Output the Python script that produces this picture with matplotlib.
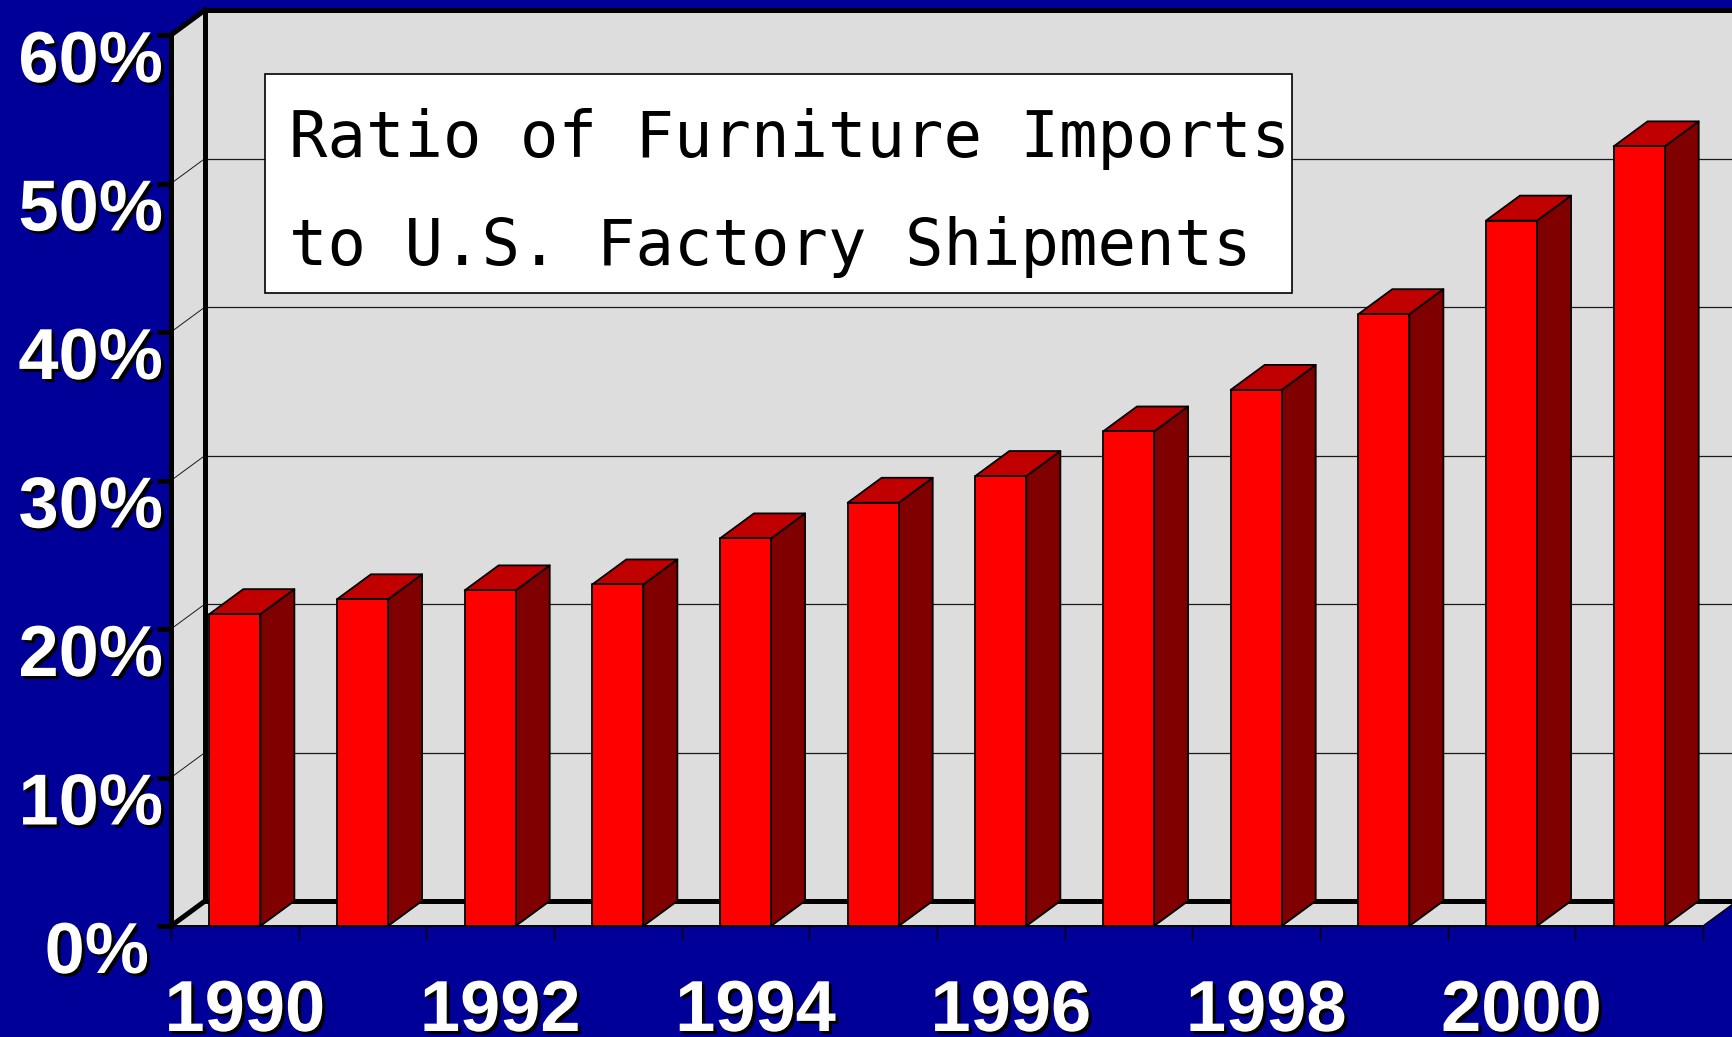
import matplotlib
matplotlib.use("Agg")
import matplotlib.pyplot as plt
import matplotlib.patches as mpatches
import matplotlib.patheffects as pe
from matplotlib.transforms import ScaledTranslation

# ---- data ----
years = [1990, 1991, 1992, 1993, 1994, 1995, 1996, 1997, 1998, 1999, 2000, 2001]
ratio = [21.0, 22.0, 22.6, 23.0, 26.1, 28.5, 30.3, 33.3, 36.1, 41.2, 47.5, 52.5]
y_ticks = [0, 10, 20, 30, 40, 50, 60]
y_tick_labels = ["0%", "10%", "20%", "30%", "40%", "50%", "60%"]
x_label_years = [1990, 1992, 1994, 1996, 1998, 2000]
title_lines = ["Ratio of Furniture Imports", "to U.S. Factory Shipments"]

# ---- style ----
BG = "#000099"
WALL = "#DDDDDD"
FRONT = "#FF0000"
TOP = "#C00000"
SIDE = "#800000"
W, H, DPI = 1732, 1037, 100

fig = plt.figure(figsize=(W / DPI, H / DPI), dpi=DPI, facecolor=BG)
left_px, right_px, bot_px, top_px = 171, 1703, 926, 35
ax = fig.add_axes([left_px / W, 1 - bot_px / H, (right_px - left_px) / W, (bot_px - top_px) / H])
ax.set_facecolor("none")
n = len(years)
ax.set_xlim(0, n)
ax.set_ylim(0, 60)
for s in ax.spines.values():
    s.set_visible(False)

# depth offsets in data units
dx = 34 / ((right_px - left_px) / n)
dy = 25 / ((bot_px - top_px) / 60)
ymax = 60

thick = 3.6
kw = dict(clip_on=False)

# back wall
ax.add_patch(mpatches.Rectangle((dx, dy), n + 0.5, ymax, facecolor=WALL, edgecolor="none", zorder=1, **kw))
# side wall
ax.add_patch(mpatches.Polygon([(0, 0), (dx, dy), (dx, ymax + dy), (0, ymax)], closed=True,
                              facecolor=WALL, edgecolor="none", zorder=1, **kw))
# floor
ax.add_patch(mpatches.Polygon([(0, 0), (n, 0), (n + dx, dy), (dx, dy)], closed=True,
                              facecolor=WALL, edgecolor="none", zorder=1, **kw))

# gridlines
for v in y_ticks[1:-1]:
    ax.plot([dx, n + dx + 0.5], [v + dy, v + dy], color="#1a1a1a", lw=0.9, zorder=2, **kw)
    ax.plot([0, dx], [v, v + dy], color="#1a1a1a", lw=0.7, zorder=2, **kw)

# thick frame edges
ax.plot([0, 0], [0, ymax], color="black", lw=thick, zorder=3, solid_capstyle="projecting", **kw)
ax.plot([0, dx], [ymax, ymax + dy], color="black", lw=thick, zorder=3, **kw)
ax.plot([dx, n + dx + 0.5], [ymax + dy, ymax + dy], color="black", lw=thick, zorder=3, **kw)
ax.plot([dx, dx], [dy, ymax + dy], color="black", lw=thick, zorder=3, **kw)
ax.plot([dx, n + dx + 0.5], [dy, dy], color="black", lw=thick, zorder=3, **kw)
ax.plot([0, dx], [0, dy], color="black", lw=thick, zorder=3, **kw)
# thin front floor edges
ax.plot([0, n], [0, 0], color="black", lw=1.4, zorder=3, **kw)
ax.plot([n, n + dx], [0, dy], color="black", lw=1.0, zorder=3, **kw)

# bars
bw = 0.4
for i, v in enumerate(ratio):
    x0 = i + 0.5 - bw / 2
    x1 = x0 + bw
    ax.add_patch(mpatches.Polygon([(x1, 0), (x1 + dx, dy), (x1 + dx, v + dy), (x1, v)], closed=True,
                                  facecolor=SIDE, edgecolor="black", lw=1.3, joinstyle="round", zorder=4, **kw))
    ax.add_patch(mpatches.Polygon([(x0, v), (x1, v), (x1 + dx, v + dy), (x0 + dx, v + dy)], closed=True,
                                  facecolor=TOP, edgecolor="black", lw=1.3, joinstyle="round", zorder=4, **kw))
    ax.add_patch(mpatches.Rectangle((x0, 0), bw, v, facecolor=FRONT, edgecolor="black", lw=1.3,
                                    joinstyle="round", zorder=4, **kw))

# ticks
ax.set_yticks(y_ticks)
ax.set_yticklabels([])
ax.tick_params(axis="y", length=10, width=3.6, color="black", direction="out")
ax.set_xticks(range(n + 1))
ax.set_xticklabels([])
ax.tick_params(axis="x", length=10, width=1.0, color="black", direction="out")

shadow = [pe.SimplePatchShadow(offset=(2.2, -2.2), shadow_rgbFace="black", alpha=1.0), pe.Normal()]
lab_font = dict(family="Liberation Sans", weight="bold", size=52, color="white")

for v, lab in zip(y_ticks, y_tick_labels):
    xoff = -22 if v == 0 else -8
    tr = ax.transData + ScaledTranslation(xoff / DPI, -47 / DPI, fig.dpi_scale_trans)
    t = ax.text(0, v, lab, transform=tr, ha="right", va="baseline", **lab_font)
    t.set_path_effects(shadow)

for yr in x_label_years:
    i = years.index(yr)
    tr = ax.transData + ScaledTranslation(10 / DPI, -105 / DPI, fig.dpi_scale_trans)
    t = ax.text(i + 0.5, 0, str(yr), transform=tr, ha="center", va="baseline", **lab_font)
    t.set_path_effects(shadow)

# title box
bx0, by0, bx1, by1 = 265, 74, 1292, 293
fig.patches.append(mpatches.Rectangle((bx0 / W, 1 - by1 / H), (bx1 - bx0) / W, (by1 - by0) / H,
                                      transform=fig.transFigure, facecolor="white", edgecolor="black",
                                      lw=1.2, zorder=10))
for line, base in zip(title_lines, [157, 265]):
    fig.text(289 / W, 1 - base / H, line, ha="left", va="baseline", family="DejaVu Sans Mono",
             size=46, color="black", zorder=11)

fig.savefig("out.png", dpi=DPI, facecolor=BG)
